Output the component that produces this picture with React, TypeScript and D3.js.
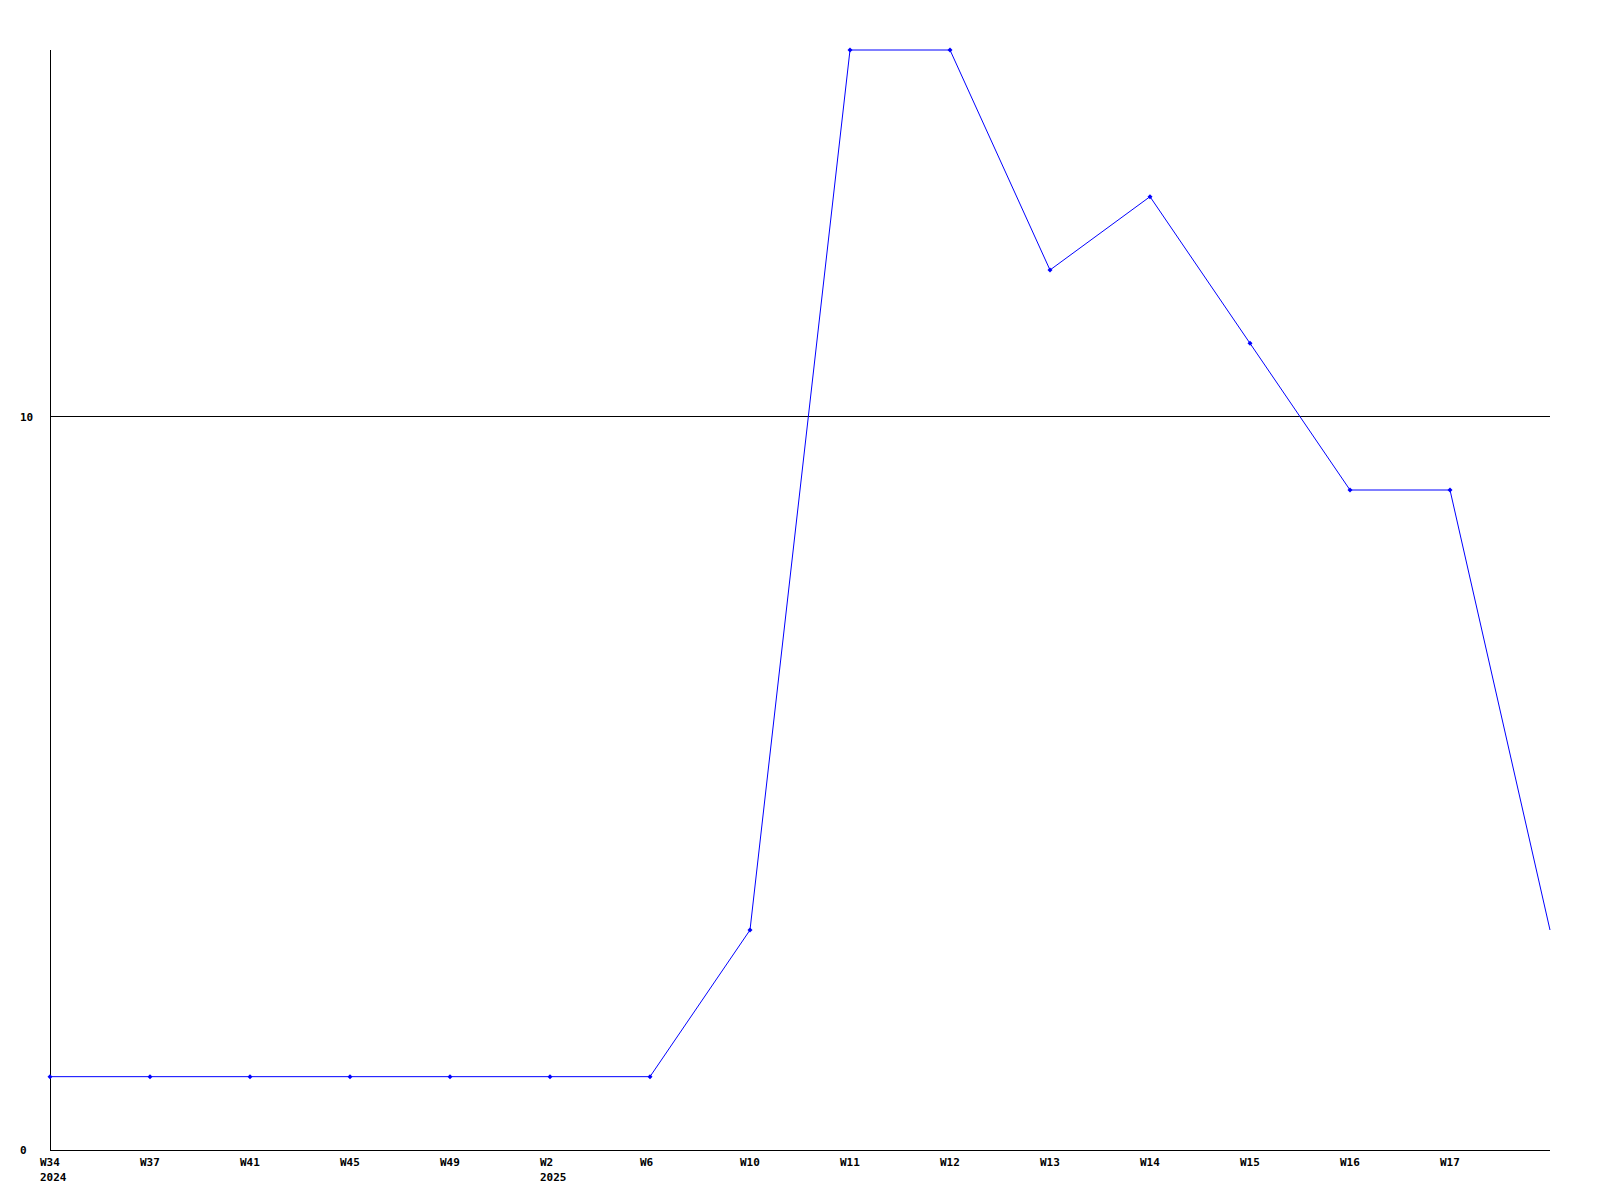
import React from "react";
import * as d3 from "d3";

const categories = ["W34", "W37", "W41", "W45", "W49", "W2", "W6", "W10", "W11", "W12", "W13", "W14", "W15", "W16", "W17", ""];
const yearLabels = ["2024", "", "", "", "", "2025", "", "", "", "", "", "", "", "", "", ""];
const values = [1, 1, 1, 1, 1, 1, 1, 3, 15, 15, 12, 13, 11, 9, 9, 3];
const yTicks = [0, 10];
const yMax = 15;

export default function App() {
  const W = 1600, H = 1200;
  const left = 50, right = 1550, top = 50, bottom = 1150;
  const idx = categories.map((_, i) => i);
  const x = d3.scaleLinear().domain([0, categories.length - 1]).range([left, right]);
  const y = d3.scaleLinear().domain([0, yMax]).range([bottom, top]);
  const line = d3.line<number>().x((_, i) => x(i)).y((d) => y(d));
  const font = { fontFamily: "'DejaVu Sans Mono', monospace", fontWeight: "bold" as const, fontSize: 11 };
  return (
    <div style={{ position: "fixed", left: 0, top: 0 }}>
      <svg width={W} height={H} style={{ display: "block", background: "#fff" }}>
        <g shapeRendering="crispEdges">
          <line x1={left} x2={left} y1={top} y2={bottom} stroke="#000" />
          <line x1={left} x2={right} y1={bottom} y2={bottom} stroke="#000" />
          {yTicks.filter((t) => t > 0).map((t) => (
            <line key={t} x1={left} x2={right} y1={y(t)} y2={y(t)} stroke="#000" />
          ))}
        </g>
        {yTicks.map((t) => (
          <text key={t} x={20} y={y(t)} dy="0.35em" {...font}>{t}</text>
        ))}
        {idx.map((i) => (
          <g key={i}>
            <text x={x(i) - 10} y={1166} textAnchor="start" {...font}>{categories[i]}</text>
            {yearLabels[i] && (
              <text x={x(i) - 10} y={1181} textAnchor="start" {...font}>{yearLabels[i]}</text>
            )}
          </g>
        ))}
        <path d={line(values) || ""} fill="none" stroke="#0000ff" strokeWidth={1} />
        {values.slice(0, values.length - 1).map((v, i) => (
          <path
            key={i}
            d={`M${x(i)},${y(v) - 2.5}L${x(i) + 2.5},${y(v)}L${x(i)},${y(v) + 2.5}L${x(i) - 2.5},${y(v)}Z`}
            fill="#0000ff"
          />
        ))}
      </svg>
    </div>
  );
}
